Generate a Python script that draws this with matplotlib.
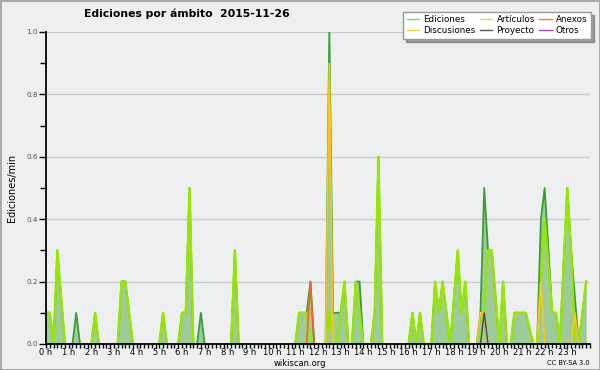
import numpy as np
import matplotlib
matplotlib.use('Agg')
import matplotlib.pyplot as plt
from matplotlib.lines import Line2D
from matplotlib.ticker import MultipleLocator, FixedLocator

# Edits per minute in 10-minute bins (144 bins over the day)
ediciones = [
    0.1, 0.1, 0, 0.3, 0.15, 0, 0, 0, 0.1, 0, 0, 0,          # 0h - 2h
    0, 0.1, 0, 0, 0, 0, 0, 0, 0.2, 0.2, 0.1, 0,             # 2h - 4h
    0, 0, 0, 0, 0, 0, 0, 0.1, 0, 0, 0, 0,                   # 4h - 6h
    0.1, 0.1, 0.5, 0, 0, 0.1, 0, 0, 0, 0, 0, 0,             # 6h - 8h
    0, 0, 0.3, 0, 0, 0, 0, 0, 0, 0, 0, 0,                   # 8h - 10h
    0, 0, 0, 0, 0, 0, 0, 0.1, 0.1, 0.1, 0.2, 0,             # 10h - 12h
    0, 0, 0, 1.0, 0.1, 0.1, 0.1, 0.2, 0, 0, 0.2, 0.2,       # 12h - 14h
    0, 0, 0, 0.1, 0.6, 0, 0, 0, 0, 0, 0, 0,                 # 14h - 16h
    0, 0.1, 0, 0.1, 0, 0, 0, 0.2, 0.1, 0.2, 0.1, 0,         # 16h - 18h
    0.15, 0.3, 0.1, 0.2, 0, 0, 0, 0.1, 0.5, 0.3, 0.3, 0.15, # 18h - 20h
    0, 0.2, 0, 0, 0.1, 0.1, 0.1, 0.1, 0.05, 0, 0, 0.4,      # 20h - 22h
    0.5, 0.3, 0.1, 0.1, 0, 0.25, 0.5, 0.3, 0.15, 0, 0.1, 0.2,  # 22h - 24h
]

# other series: bin index -> value (all other bins are zero)
articulos_bins = [0, 1, 3, 4, 13, 20, 21, 22, 31, 36, 37, 38, 50, 67, 68, 69,
                  75, 78, 79, 82, 83, 87, 88, 97, 99, 103, 104, 105, 106,
                  108, 109, 110, 111, 116, 117, 118, 119, 121, 124, 125, 126,
                  127, 128, 131, 132, 133, 134, 135, 137, 138, 139, 142, 143]
articulos_vals = [0.1, 0.1, 0.3, 0.15, 0.1, 0.2, 0.2, 0.1, 0.1, 0.1, 0.1, 0.5,
                  0.3, 0.1, 0.1, 0.1, 0.1, 0.1, 0.2, 0.2, 0.1, 0.1, 0.6, 0.1,
                  0.1, 0.2, 0.1, 0.2, 0.1, 0.15, 0.3, 0.1, 0.2, 0.1, 0.3, 0.3,
                  0.15, 0.2, 0.1, 0.1, 0.1, 0.1, 0.05, 0.2, 0.4, 0.25, 0.1,
                  0.1, 0.25, 0.5, 0.3, 0.1, 0.2]
discusiones_bins = [75, 115, 116, 131, 140]
discusiones_vals = [0.9, 0.1, 0.1, 0.2, 0.1]
anexos_bins = [70]
anexos_vals = [0.2]
proyecto_bins = [116]
proyecto_vals = [0.1]
otros_bins = []
otros_vals = []

hour_labels = ['%d h' % h for h in range(24)]

n = len(ediciones)
x = np.arange(n) / 6.0


def dense(bins, vals):
    v = np.zeros(n)
    v[np.array(bins, dtype=int)] = vals
    return v


def trim(v):
    # hide the flat zero parts so they don't paint over the axis
    v = np.asarray(v, float)
    keep = v > 0
    keep[1:] |= v[:-1] > 0
    keep[:-1] |= v[1:] > 0
    return np.where(keep, v, np.nan)


ed = np.array(ediciones, float)
art = dense(articulos_bins, articulos_vals)
disc = dense(discusiones_bins, discusiones_vals)
anx = dense(anexos_bins, anexos_vals)
proy = dense(proyecto_bins, proyecto_vals)
otr = dense(otros_bins, otros_vals)

bg = '#eeeff1'
fig = plt.figure(figsize=(6, 3.7), dpi=100, facecolor=bg)
fig.patch.set_edgecolor('#aaaaaa')
fig.patch.set_linewidth(2)
ax = fig.add_axes([46 / 600, 26 / 370, 544 / 600, 312 / 370])
ax.set_facecolor(bg)

ax.fill_between(x, 0, ed, color='#9fcb9c', lw=0, zorder=1)
ax.plot(x, trim(ed), color='#35a035', lw=1.3, zorder=2)
ax.plot(x, trim(art), color='#99e600', lw=1.7, zorder=3)
ax.plot(x, trim(disc), color='#ffc61a', lw=1.2, zorder=4)
ax.plot(x, trim(anx), color='#ff6020', lw=1.2, zorder=5)
ax.plot(x, trim(proy), color='#444444', lw=1.0, zorder=6)
ax.plot(x, trim(otr), color='#9944ee', lw=1.0, zorder=6)

ax.set_xlim(0, 24)
ax.set_ylim(0, 1.0)

ax.yaxis.set_major_locator(MultipleLocator(0.2))
ax.yaxis.set_minor_locator(MultipleLocator(0.1))
ax.yaxis.set_major_formatter(matplotlib.ticker.FormatStrFormatter('%.1f'))
ax.yaxis.grid(True, color='#cccccc', lw=1)
ax.set_axisbelow(True)

ax.xaxis.set_major_locator(FixedLocator(range(24)))
ax.set_xticklabels(hour_labels)
ax.xaxis.set_minor_locator(MultipleLocator(1 / 6))

for s in ['top', 'right']:
    ax.spines[s].set_visible(False)
for s in ['left', 'bottom']:
    ax.spines[s].set_linewidth(1.3)
    ax.spines[s].set_zorder(10)

ax.tick_params(axis='y', which='major', length=5, width=1, labelsize=5.2,
               labelcolor='#555555', pad=1)
ax.tick_params(axis='y', which='minor', length=4, width=1)
ax.tick_params(axis='x', which='major', length=3, width=1, labelsize=6, pad=0)
ax.tick_params(axis='x', which='minor', length=3, width=1)

fig.text(187 / 600, 1 - 14 / 370, 'Ediciones por ámbito  2015-11-26',
         ha='center', va='center', fontsize=7.8, fontweight='bold')
fig.text(12 / 600, 1 - 188 / 370, 'Ediciones/min', rotation=90,
         ha='center', va='center', fontsize=7)
fig.text(300 / 600, 1 - 363 / 370, 'wikiscan.org', ha='center', va='center',
         fontsize=6)
fig.text(590 / 600, 1 - 363 / 370, 'CC BY-SA 3.0', ha='right', va='center',
         fontsize=4.8)

handles = [
    Line2D([], [], color='#80cf80', lw=1, label='Ediciones'),
    Line2D([], [], color='#f5cf45', lw=1, label='Discusiones'),
    Line2D([], [], color='#cde84a', lw=1, label='Artículos'),
    Line2D([], [], color='#555555', lw=1, label='Proyecto'),
    Line2D([], [], color='#f57a48', lw=1, label='Anexos'),
    Line2D([], [], color='#9a4af0', lw=1, label='Otros'),
]
leg = fig.legend(handles=handles, ncol=3, loc='upper right',
                 bbox_to_anchor=(591 / 600, 1 - 12 / 370), fontsize=6.3,
                 frameon=True, fancybox=False, shadow=True, handlelength=1.4,
                 columnspacing=0.5, handletextpad=0.5, labelspacing=0.2,
                 borderpad=0.4, borderaxespad=0)
leg.get_frame().set_edgecolor('#999999')
leg.get_frame().set_facecolor('white')
leg.get_frame().set_alpha(1)

fig.savefig('out.png', dpi=100, facecolor=fig.get_facecolor(),
            edgecolor=fig.get_edgecolor())
